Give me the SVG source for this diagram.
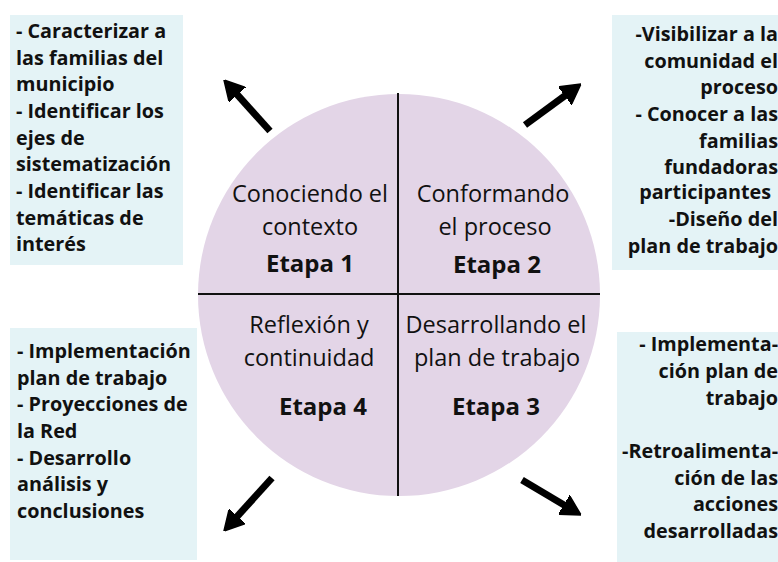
<svg xmlns="http://www.w3.org/2000/svg" width="778" height="562" viewBox="0 0 778 562">
<style>
.box{fill:#e4f3f6}
.bt{font-family:"Open Sans","Liberation Sans",sans-serif;font-weight:700;font-size:19.8px;fill:#111}
.ct{font-family:"Open Sans","Liberation Sans",sans-serif;font-weight:400;font-size:23.5px;fill:#111;text-anchor:middle}
.et{font-family:"Open Sans","Liberation Sans",sans-serif;font-weight:700;font-size:24px;fill:#111;text-anchor:middle}
.div{stroke:#111;stroke-width:2}
.arr{stroke:#000;stroke-width:7;fill:none}
</style>
<defs>
<marker id="ah" viewBox="0 0 20 22" refX="10" refY="11" markerWidth="20" markerHeight="22" markerUnits="userSpaceOnUse" orient="auto">
<path d="M0,0 L20,11 L0,22 z" fill="#000" stroke="#000" stroke-width="1.5" stroke-linejoin="round"/>
</marker>
</defs>
<rect width="778" height="562" fill="#fff"/>
<g id="circle">
<circle cx="399" cy="295" r="201" fill="#e3d5e7"/>
<line class="div" x1="398" y1="93" x2="398" y2="496"/>
<line class="div" x1="198" y1="294" x2="600" y2="294"/>
</g>
<g id="etapa1">
<text class="ct" x="310" y="202">Conociendo el</text>
<text class="ct" x="310" y="235">contexto</text>
<text class="et" x="310" y="272">Etapa 1</text>
</g>
<g id="etapa2">
<text class="ct" x="493" y="202">Conformando</text>
<text class="ct" x="495" y="235">el proceso</text>
<text class="et" x="497" y="273">Etapa 2</text>
</g>
<g id="etapa4">
<text class="ct" x="309" y="333">Reflexión y</text>
<text class="ct" x="309" y="366">continuidad</text>
<text class="et" x="323" y="415">Etapa 4</text>
</g>
<g id="etapa3">
<text class="ct" x="496" y="333">Desarrollando el</text>
<text class="ct" x="497" y="366">plan de trabajo</text>
<text class="et" x="496" y="415">Etapa 3</text>
</g>
<g id="box-tl">
<rect class="box" x="10" y="15" width="173" height="250"/>
<text class="bt" x="16" y="38">- Caracterizar a</text>
<text class="bt" x="16" y="64.5">las familias del</text>
<text class="bt" x="16" y="91">municipio</text>
<text class="bt" x="16" y="118">- Identificar los</text>
<text class="bt" x="16" y="144.5">ejes de</text>
<text class="bt" x="16" y="171">sistematización</text>
<text class="bt" x="16" y="198">- Identificar las</text>
<text class="bt" x="16" y="224.5">temáticas de</text>
<text class="bt" x="16" y="251">interés</text>
</g>
<g id="box-tr">
<rect class="box" x="612" y="15" width="170" height="255"/>
<g text-anchor="end">
<text class="bt" x="778" y="41">-Visibilizar a la</text>
<text class="bt" x="778" y="68">comunidad el</text>
<text class="bt" x="778" y="94">proceso</text>
<text class="bt" x="778" y="121">- Conocer a las</text>
<text class="bt" x="778" y="148">familias</text>
<text class="bt" x="778" y="174">fundadoras</text>
<text class="bt" x="771" y="199">participantes</text>
<text class="bt" x="778" y="226">-Diseño del</text>
<text class="bt" x="778" y="253">plan de trabajo</text>
</g>
</g>
<g id="box-bl">
<rect class="box" x="10" y="328" width="187" height="232"/>
<text class="bt" x="17" y="358">- Implementación</text>
<text class="bt" x="17" y="384.5">plan de trabajo</text>
<text class="bt" x="17" y="411">- Proyecciones de</text>
<text class="bt" x="17" y="438">la Red</text>
<text class="bt" x="17" y="464.5">- Desarrollo</text>
<text class="bt" x="17" y="491">análisis y</text>
<text class="bt" x="17" y="518">conclusiones</text>
</g>
<g id="box-br">
<rect class="box" x="617" y="332" width="165" height="232"/>
<g text-anchor="end">
<text class="bt" x="778" y="351">- Implementa-</text>
<text class="bt" x="778" y="378">ción plan de</text>
<text class="bt" x="778" y="404.5">trabajo</text>
<text class="bt" x="778" y="458">-Retroalimenta-</text>
<text class="bt" x="778" y="484.5">ción de las</text>
<text class="bt" x="778" y="511">acciones</text>
<text class="bt" x="778" y="538">desarrolladas</text>
</g>
</g>
<g id="connectors">
<line class="arr" x1="270" y1="131" x2="230.7" y2="87.4" marker-end="url(#ah)"/>
<line class="arr" x1="525" y1="125" x2="572.9" y2="89.9" marker-end="url(#ah)"/>
<line class="arr" x1="272" y1="478" x2="230.7" y2="523.6" marker-end="url(#ah)"/>
<line class="arr" x1="522" y1="480" x2="572.4" y2="509.9" marker-end="url(#ah)"/>
</g>
</svg>
